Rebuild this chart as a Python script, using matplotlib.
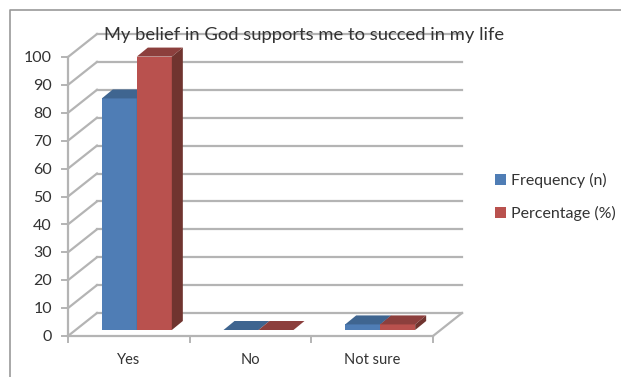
import matplotlib
matplotlib.use('Agg')
import matplotlib.pyplot as plt
from matplotlib.patches import Polygon, Patch

plt.rcParams['font.family'] = ['Lato', 'DejaVu Sans']

title = 'My belief in God supports me to succed in my life'
categories = ['Yes', 'No', 'Not sure']
frequency = [83, 0, 2]
percentage = [98, 0, 2]
yticks = [0, 10, 20, 30, 40, 50, 60, 70, 80, 90, 100]

W, H = 621, 377
blue, blue_top = '#4f7db5', '#3f6590'
red, red_top = '#b9514e', '#8c3f3d'
red_side = '#70342f'
blue_side = '#38587f'
grid = '#b4b4b4'
text_col = '#333333'

fig = plt.figure(figsize=(W / 100, H / 100), dpi=100)
ax = fig.add_axes([68 / W, (H - 336) / H, 365 / W, 279 / H])
ax.set_xlim(0, 3)
ax.set_ylim(0, 100)
ax.axis('off')

# pixels to data units
px = 3 / 365
py = 100 / 279
wall_dx, wall_dy = 29 * px, 23 * py
bar_off_x, bar_off_y = 8 * px, 6 * py
depth_x, depth_y = 11 * px, 9 * py
bar_w = 35 * px

# outer frame of the chart
fig.add_artist(plt.Line2D([10 / W, 10 / W, 1], [0, 1 - 10 / H, 1 - 10 / H], color='#999999', lw=1.2))

# walls
for v in yticks:
    ax.plot([0, wall_dx], [v, v + wall_dy], color=grid, lw=1.6, clip_on=False, zorder=1)
    ax.plot([wall_dx, 3 + wall_dx], [v + wall_dy, v + wall_dy], color=grid, lw=1.6, clip_on=False, zorder=1)
    ax.plot([-6 * px, 0], [v, v], color=grid, lw=1.4, clip_on=False, zorder=1)
    ax.text(-16 * px, v - 0.4, str(v), ha='right', va='center', fontsize=11.5, color=text_col, clip_on=False)
ax.plot([0, 0], [0, 100], color=grid, lw=1.6, clip_on=False, zorder=1)
ax.plot([0, 3], [0, 0], color=grid, lw=1.6, clip_on=False, zorder=1)
ax.plot([3, 3 + wall_dx], [0, wall_dy], color=grid, lw=1.6, clip_on=False, zorder=1)
for i in range(4):
    ax.plot([i, i], [0, -6 * py], color=grid, lw=1.4, clip_on=False, zorder=1)
for i, c in enumerate(categories):
    ax.text(i + 0.5, -24 * py, c, ha='center', va='center', fontsize=10.5, color=text_col, clip_on=False)


def draw_bar(x, val, face, top, side):
    y0 = bar_off_y
    ax.bar(x, val, width=bar_w, bottom=y0, align='edge', color=face, zorder=3, clip_on=False)
    y1 = y0 + val
    ax.add_patch(Polygon([(x, y1), (x + bar_w, y1), (x + bar_w + depth_x, y1 + depth_y), (x + depth_x, y1 + depth_y)],
                         closed=True, fc=top, ec='none', zorder=3, clip_on=False))
    ax.add_patch(Polygon([(x + bar_w, y0), (x + bar_w + depth_x, y0 + depth_y), (x + bar_w + depth_x, y1 + depth_y), (x + bar_w, y1)],
                         closed=True, fc=side, ec='none', zorder=3, clip_on=False))


for i in range(len(categories)):
    left = i + 0.5 + bar_off_x - bar_w
    draw_bar(left, frequency[i], blue, blue_top, blue_side)
    draw_bar(left + bar_w, percentage[i], red, red_top, red_side)

fig.text(304 / W, 1 - 35 / H, title, ha='center', va='center', fontsize=13.2, color=text_col)

handles = [Patch(fc=blue, label='Frequency (n)'), Patch(fc=red, label='Percentage (%)')]
fig.legend(handles=handles, loc='center left', bbox_to_anchor=(481 / W, 1 - 197 / H), frameon=False,
           fontsize=11.5, handlelength=0.65, handleheight=0.7, handletextpad=0.31, labelspacing=1.1,
           labelcolor=text_col)

fig.savefig('out.png', dpi=100)
